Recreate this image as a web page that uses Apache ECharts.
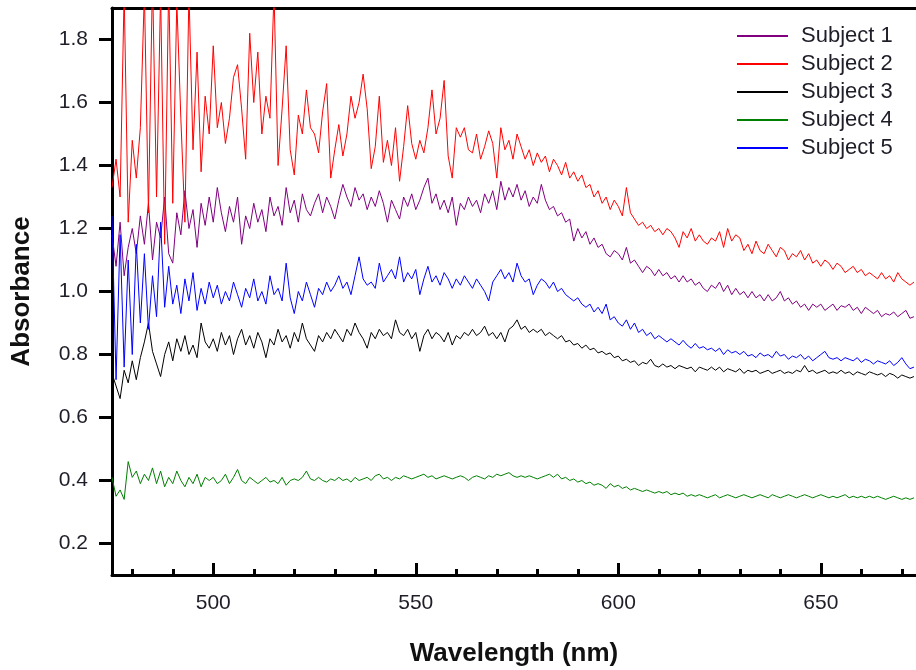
<!DOCTYPE html>
<html><head><meta charset="utf-8">
<script src="https://cdn.jsdelivr.net/npm/echarts@6/dist/echarts.min.js"></script>
<style>html,body{margin:0;padding:0;background:#fff}#c{width:916px;height:670px}</style>
</head><body><div id="c"></div><script>
const wavelengths = [
475,476,477,478,479,480,481,482,483,484,485,486,487,488,489,490,491,492,493,494,495,496,497,498,499,
500,501,502,503,504,505,506,507,508,509,510,511,512,513,514,515,516,517,518,519,520,521,522,523,524,
525,526,527,528,529,530,531,532,533,534,535,536,537,538,539,540,541,542,543,544,545,546,547,548,549,
550,551,552,553,554,555,556,557,558,559,560,561,562,563,564,565,566,567,568,569,570,571,572,573,574,
575,576,577,578,579,580,581,582,583,584,585,586,587,588,589,590,591,592,593,594,595,596,597,598,599,
600,601,602,603,604,605,606,607,608,609,610,611,612,613,614,615,616,617,618,619,620,621,622,623,624,
625,626,627,628,629,630,631,632,633,634,635,636,637,638,639,640,641,642,643,644,645,646,647,648,649,
650,651,652,653,654,655,656,657,658,659,660,661,662,663,664,665,666,667,668,669,670,671,672,673];

const subject1 = [
1.18,1.08,1.22,1.05,1.14,1.20,1.12,1.24,1.15,1.28,1.10,1.22,1.17,1.30,1.12,1.09,1.25,1.18,1.32,1.20,1.26,1.14,1.28,1.21,1.30,
1.22,1.33,1.25,1.19,1.27,1.22,1.30,1.15,1.24,1.20,1.28,1.22,1.26,1.19,1.30,1.24,1.27,1.21,1.33,1.25,1.29,1.22,1.31,1.26,1.24,
1.28,1.31,1.25,1.30,1.27,1.23,1.29,1.34,1.30,1.27,1.33,1.29,1.31,1.26,1.30,1.27,1.32,1.28,1.22,1.29,1.26,1.23,1.30,1.27,1.31,
1.26,1.29,1.33,1.36,1.28,1.31,1.26,1.29,1.25,1.30,1.21,1.28,1.26,1.30,1.27,1.29,1.25,1.31,1.28,1.32,1.26,1.35,1.29,1.33,1.30,
1.34,1.29,1.32,1.27,1.30,1.28,1.34,1.29,1.26,1.27,1.24,1.25,1.22,1.23,1.16,1.20,1.17,1.19,1.15,1.17,1.14,1.15,1.12,1.11,1.13,
1.12,1.10,1.14,1.09,1.10,1.08,1.06,1.08,1.07,1.05,1.07,1.05,1.06,1.04,1.05,1.03,1.05,1.03,1.04,1.02,1.03,1.01,1.00,1.02,1.01,
1.03,1.00,1.02,0.99,1.01,0.99,1.00,0.98,1.00,0.98,0.99,0.97,0.99,0.97,0.98,1.00,0.97,0.98,0.96,0.97,0.95,0.96,0.94,0.96,0.95,
0.96,0.94,0.95,0.96,0.94,0.955,0.95,0.96,0.94,0.95,0.93,0.95,0.94,0.93,0.94,0.92,0.93,0.925,0.935,0.92,0.93,0.94,0.915,0.92];

const subject2 = [
1.33,1.42,1.30,1.95,1.22,1.48,1.36,1.52,1.95,1.25,2.00,1.30,1.95,1.15,1.98,1.28,1.92,1.55,1.22,1.95,1.45,1.76,1.38,1.62,1.50,
1.78,1.52,1.60,1.47,1.55,1.68,1.72,1.58,1.42,1.82,1.60,1.76,1.50,1.62,1.55,1.95,1.40,1.58,1.78,1.45,1.37,1.56,1.50,1.64,1.52,
1.50,1.44,1.57,1.66,1.36,1.45,1.53,1.43,1.50,1.62,1.55,1.60,1.69,1.58,1.39,1.46,1.62,1.41,1.48,1.40,1.52,1.35,1.46,1.59,1.47,
1.42,1.48,1.44,1.52,1.64,1.50,1.55,1.67,1.43,1.36,1.52,1.49,1.52,1.45,1.44,1.50,1.42,1.46,1.51,1.47,1.36,1.52,1.45,1.48,1.42,
1.50,1.46,1.42,1.45,1.40,1.44,1.41,1.43,1.38,1.42,1.40,1.37,1.41,1.36,1.38,1.35,1.37,1.33,1.34,1.30,1.32,1.28,1.30,1.26,1.29,
1.27,1.24,1.33,1.25,1.23,1.21,1.22,1.20,1.21,1.19,1.20,1.18,1.20,1.19,1.17,1.14,1.19,1.17,1.20,1.16,1.18,1.16,1.15,1.17,1.16,
1.19,1.14,1.20,1.16,1.18,1.17,1.13,1.15,1.12,1.16,1.13,1.12,1.15,1.13,1.11,1.14,1.13,1.10,1.12,1.11,1.13,1.10,1.12,1.09,1.10,
1.08,1.10,1.09,1.07,1.09,1.08,1.06,1.07,1.08,1.06,1.07,1.05,1.06,1.05,1.04,1.06,1.04,1.05,1.03,1.06,1.04,1.03,1.02,1.03];

const subject3 = [
0.74,0.70,0.66,0.75,0.71,0.78,0.72,0.79,0.84,0.90,0.81,0.77,0.73,0.80,0.84,0.78,0.85,0.81,0.86,0.80,0.83,0.79,0.90,0.84,0.82,
0.85,0.81,0.87,0.83,0.86,0.80,0.85,0.88,0.83,0.86,0.82,0.87,0.84,0.79,0.85,0.83,0.88,0.84,0.86,0.82,0.87,0.84,0.90,0.85,0.83,
0.81,0.86,0.84,0.87,0.85,0.88,0.86,0.84,0.88,0.86,0.90,0.87,0.85,0.82,0.87,0.85,0.88,0.86,0.87,0.85,0.91,0.87,0.86,0.88,0.85,
0.87,0.81,0.86,0.88,0.85,0.87,0.86,0.84,0.87,0.83,0.86,0.85,0.87,0.86,0.88,0.86,0.87,0.89,0.86,0.87,0.85,0.87,0.84,0.88,0.89,
0.91,0.88,0.89,0.87,0.88,0.87,0.88,0.86,0.87,0.86,0.85,0.86,0.84,0.845,0.83,0.835,0.82,0.83,0.815,0.82,0.805,0.81,0.80,0.805,0.79,
0.795,0.78,0.785,0.775,0.78,0.765,0.775,0.77,0.785,0.765,0.76,0.77,0.76,0.765,0.755,0.765,0.76,0.755,0.76,0.745,0.76,0.755,0.75,0.76,0.75,
0.76,0.745,0.755,0.75,0.745,0.755,0.74,0.75,0.745,0.75,0.74,0.745,0.75,0.74,0.745,0.75,0.74,0.745,0.74,0.75,0.745,0.765,0.745,0.75,0.74,
0.745,0.75,0.74,0.745,0.74,0.75,0.74,0.745,0.735,0.745,0.74,0.735,0.745,0.74,0.735,0.74,0.73,0.74,0.735,0.725,0.735,0.73,0.725,0.73];

const subject4 = [
0.41,0.35,0.37,0.34,0.46,0.41,0.43,0.39,0.42,0.40,0.44,0.39,0.43,0.38,0.41,0.39,0.43,0.40,0.38,0.41,0.39,0.42,0.38,0.41,0.40,
0.41,0.39,0.40,0.42,0.39,0.41,0.435,0.40,0.39,0.41,0.40,0.39,0.40,0.41,0.395,0.40,0.39,0.41,0.385,0.40,0.405,0.40,0.41,0.43,0.405,
0.40,0.41,0.40,0.395,0.405,0.40,0.41,0.40,0.405,0.395,0.41,0.40,0.405,0.41,0.40,0.415,0.42,0.405,0.41,0.40,0.41,0.405,0.415,0.41,0.405,
0.41,0.415,0.42,0.41,0.415,0.405,0.41,0.415,0.41,0.405,0.41,0.415,0.41,0.40,0.41,0.415,0.41,0.405,0.415,0.41,0.42,0.415,0.42,0.425,0.415,
0.41,0.415,0.41,0.415,0.41,0.405,0.41,0.415,0.42,0.41,0.42,0.405,0.41,0.40,0.405,0.395,0.40,0.39,0.395,0.385,0.39,0.385,0.375,0.39,0.38,
0.385,0.375,0.38,0.37,0.375,0.37,0.365,0.37,0.365,0.36,0.365,0.36,0.365,0.355,0.36,0.355,0.36,0.35,0.355,0.35,0.355,0.35,0.345,0.35,0.355,
0.345,0.35,0.355,0.35,0.345,0.35,0.355,0.35,0.345,0.35,0.355,0.35,0.345,0.355,0.35,0.345,0.35,0.355,0.35,0.345,0.35,0.355,0.35,0.345,0.35,
0.355,0.35,0.345,0.35,0.345,0.35,0.355,0.345,0.35,0.345,0.35,0.345,0.35,0.345,0.35,0.345,0.34,0.345,0.35,0.345,0.34,0.345,0.34,0.345];

const subject5 = [
1.24,0.72,1.18,0.76,1.10,0.80,1.15,0.90,1.12,0.88,1.05,0.92,1.22,0.95,1.08,0.96,1.02,0.93,1.04,0.97,1.06,0.94,1.01,0.96,1.03,
0.98,1.02,0.96,1.00,0.97,1.03,0.99,0.95,1.01,0.98,1.04,0.97,1.00,0.96,1.05,0.99,1.01,0.97,1.09,0.98,0.93,1.00,0.97,1.03,0.99,
0.95,1.01,0.99,1.03,1.00,1.02,1.05,1.01,1.03,0.99,1.05,1.11,1.04,1.02,1.03,1.01,1.09,1.03,1.05,1.07,1.04,1.11,1.03,1.06,1.04,
1.07,0.99,1.04,1.08,1.03,1.05,1.02,1.06,1.04,1.01,1.04,1.02,1.05,1.03,1.01,1.04,1.02,1.00,0.97,1.03,1.05,1.07,1.04,1.06,1.03,
1.09,1.05,1.03,1.04,0.99,1.02,1.04,1.03,1.01,1.03,1.00,1.01,0.99,0.98,0.97,0.98,0.96,0.95,0.96,0.935,0.95,0.93,0.96,0.91,0.92,
0.90,0.89,0.91,0.88,0.90,0.87,0.88,0.86,0.87,0.85,0.86,0.85,0.84,0.85,0.84,0.83,0.845,0.83,0.82,0.835,0.82,0.825,0.815,0.82,0.81,
0.82,0.80,0.815,0.805,0.81,0.80,0.81,0.795,0.80,0.79,0.805,0.795,0.80,0.79,0.81,0.795,0.80,0.785,0.795,0.79,0.80,0.785,0.795,0.78,0.79,
0.80,0.81,0.79,0.785,0.79,0.78,0.79,0.785,0.78,0.79,0.775,0.785,0.78,0.77,0.78,0.775,0.77,0.78,0.765,0.775,0.79,0.77,0.755,0.76];

const seriesNames = ['Subject 1', 'Subject 2', 'Subject 3', 'Subject 4', 'Subject 5'];
const seriesValues = [subject1, subject2, subject3, subject4, subject5];
const seriesColors = ['#800080', '#ff0000', '#000000', '#008000', '#0000ff'];
const xMajorTicks = [500, 550, 600, 650];
const xMinorTicks = [480, 490, 510, 520, 530, 540, 560, 570, 580, 590, 610, 620, 630, 640, 660, 670];
const yTicks = [0.2, 0.4, 0.6, 0.8, 1.0, 1.2, 1.4, 1.6, 1.8];

const FONT = '"Liberation Sans", Arial, Helvetica, sans-serif';
const TXT = '#1e1e28';
const X_MIN = 475, X_MAX = 673.5, Y_MIN = 0.1, Y_MAX = 1.9;

const chart = echarts.init(document.getElementById('c'), null, { renderer: 'canvas' });
chart.setOption({
  animation: false,
  backgroundColor: '#ffffff',
  textStyle: { fontFamily: FONT },
  grid: { left: 112, right: 0, top: 8, bottom: 95, containLabel: false, outerBoundsMode: 'none' },
  legend: {
    data: seriesNames,
    orient: 'vertical',
    left: 737,
    top: 25,
    padding: 0,
    icon: 'rect',
    itemWidth: 51,
    itemHeight: 2,
    itemGap: 6,
    selectedMode: false,
    textStyle: { fontSize: 22, color: TXT, fontFamily: FONT, lineHeight: 22, padding: [0, 0, 0, 8] }
  },
  xAxis: [
    {
      type: 'value', min: X_MIN, max: X_MAX, position: 'bottom',
      name: 'Wavelength (nm)', nameLocation: 'middle', nameGap: 66,
      nameTextStyle: { fontSize: 26, fontWeight: 'bold', color: '#111', fontFamily: FONT },
      axisLine: { show: true, onZero: false, lineStyle: { color: '#000', width: 3 } },
      axisTick: { show: true, inside: true, length: 12, customValues: xMajorTicks, lineStyle: { color: '#000', width: 3 } },
      axisLabel: { show: true, customValues: xMajorTicks, fontSize: 21, color: TXT, margin: 18, fontFamily: FONT },
      splitLine: { show: false }
    },
    {
      type: 'value', min: X_MIN, max: X_MAX, position: 'bottom',
      axisLine: { show: false },
      axisTick: { show: true, inside: true, length: 6, customValues: xMinorTicks, lineStyle: { color: '#000', width: 3 } },
      axisLabel: { show: false },
      splitLine: { show: false }
    },
    {
      type: 'value', min: X_MIN, max: X_MAX, position: 'top',
      axisLine: { show: true, onZero: false, lineStyle: { color: '#000', width: 3 } },
      axisTick: { show: false },
      axisLabel: { show: false },
      splitLine: { show: false }
    }
  ],
  yAxis: {
    type: 'value', min: Y_MIN, max: Y_MAX,
    name: 'Absorbance', nameLocation: 'middle', nameGap: 77,
    nameTextStyle: { fontSize: 26, fontWeight: 'bold', color: '#111', fontFamily: FONT },
    axisLine: { show: true, onZero: false, lineStyle: { color: '#000', width: 3 } },
    axisTick: { show: true, inside: false, length: 13, customValues: yTicks, lineStyle: { color: '#000', width: 3 } },
    axisLabel: { show: true, customValues: yTicks, fontSize: 21, color: TXT, margin: 24, fontFamily: FONT,
      formatter: v => Number(v).toFixed(1) },
    splitLine: { show: false }
  },
  series: seriesNames.map((name, k) => ({
    name: name,
    type: 'line',
    xAxisIndex: 0,
    yAxisIndex: 0,
    symbol: 'none',
    showSymbol: false,
    clip: true,
    color: seriesColors[k],
    itemStyle: { color: seriesColors[k] },
    lineStyle: { color: seriesColors[k], width: 1 },
    data: wavelengths.map((w, i) => [w, seriesValues[k][i]])
  }))
});
</script></body></html>
